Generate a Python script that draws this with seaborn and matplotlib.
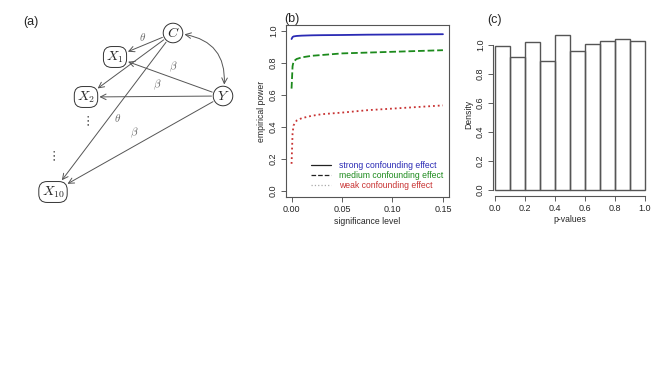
import numpy as np
import pandas as pd
import seaborn as sns
import matplotlib.pyplot as plt
from matplotlib.lines import Line2D

# data
sig_level = [0.0, 0.001, 0.002, 0.005, 0.01, 0.02, 0.03, 0.05, 0.075, 0.10, 0.125, 0.15]
strong = [0.95, 0.962, 0.966, 0.969, 0.971, 0.973, 0.974, 0.975, 0.977, 0.978, 0.979, 0.980]
medium = [0.64, 0.78, 0.81, 0.825, 0.835, 0.845, 0.85, 0.86, 0.865, 0.87, 0.875, 0.88]
weak = [0.17, 0.36, 0.41, 0.44, 0.455, 0.47, 0.48, 0.49, 0.505, 0.515, 0.525, 0.535]
series_names = ['strong confounding effect', 'medium confounding effect', 'weak confounding effect']

bin_edges = [0.0, 0.1, 0.2, 0.3, 0.4, 0.5, 0.6, 0.7, 0.8, 0.9, 1.0]
densities = [0.99, 0.92, 1.02, 0.89, 1.07, 0.96, 1.01, 1.03, 1.04, 1.03]

sns.set_style('ticks')
plt.rcParams['font.family'] = ['Liberation Sans', 'DejaVu Sans']
plt.rcParams['mathtext.fontset'] = 'cm'
plt.rcParams['xtick.direction'] = 'out'
plt.rcParams['ytick.direction'] = 'out'

fig = plt.figure(figsize=(6.71, 3.78), dpi=100)
W, H = 671, 378

def px_axes(left, top, right, bottom):
    return fig.add_axes([left / W, 1 - bottom / H, (right - left) / W, (bottom - top) / H])

# ---------- (a) diagram ----------
ax_a = px_axes(0, 0, 250, 210)
ax_a.set_xlim(0, 250)
ax_a.set_ylim(210, 0)
ax_a.axis('off')
edge_col = '#555555'
nodes = {
    'C': (173, 33, r'$C$', 'circle,pad=0.2'),
    'X1': (115, 57, r'$X_1$', 'round,pad=0.2,rounding_size=0.6'),
    'X2': (86, 97, r'$X_2$', 'round,pad=0.2,rounding_size=0.6'),
    'Y': (223, 96, r'$Y$', 'circle,pad=0.2'),
    'X10': (53, 192, r'$X_{10}$', 'round,pad=0.2,rounding_size=0.6'),
}
txt = {}
for k, (x, y, lab, bs) in nodes.items():
    txt[k] = ax_a.text(x, y, lab, ha='center', va='center', fontsize=10,
                       bbox=dict(boxstyle=bs, fc='white', ec='#333333', lw=0.7))

def arrow(a, b, style='->', conn='arc3,rad=0'):
    ax_a.annotate('', xy=(0.5, 0.5), xycoords=txt[b], xytext=(0.5, 0.5), textcoords=txt[a],
                  arrowprops=dict(arrowstyle=style, color=edge_col, lw=0.7,
                                  patchA=txt[a].get_bbox_patch(), patchB=txt[b].get_bbox_patch(),
                                  shrinkA=1, shrinkB=1, connectionstyle=conn))

for a, b in [('C', 'X1'), ('C', 'X2'), ('C', 'X10'), ('Y', 'X1'), ('Y', 'X2'), ('Y', 'X10')]:
    arrow(a, b)
arrow('C', 'Y', style='<->', conn='arc3,rad=-0.55')

for x, y, s in [(143, 37, r'$\theta$'), (118, 118, r'$\theta$'), (173, 67, r'$\beta$'),
                (157, 85, r'$\beta$'), (134, 133, r'$\beta$')]:
    ax_a.text(x, y, s, fontsize=8, color='#666666', ha='center', va='center')
ax_a.text(87, 121, r'$\vdots$', fontsize=9, ha='center', va='center', color='#444444')
ax_a.text(53, 156, r'$\vdots$', fontsize=9, ha='center', va='center', color='#444444')
fig.text(31 / W, 1 - 22 / H, '(a)', fontsize=9, ha='center', va='center')

# ---------- (b) power curves ----------
ax_b = px_axes(285.5, 24.6, 449, 197.4)
df = pd.DataFrame({'alpha': sig_level * 3,
                   'power': strong + medium + weak,
                   'effect': np.repeat(series_names, len(sig_level))})
line_cols = ['#2a2ab4', '#1c8a1c', '#c83232']
line_styles = ['-', '--', ':']
for name, c, ls in zip(series_names, line_cols, line_styles):
    sns.lineplot(data=df[df['effect'] == name], x='alpha', y='power', color=c,
                 linestyle=ls, lw=1.3, ax=ax_b, legend=False)
ax_b.set_xlim(-0.006, 0.156)
ax_b.set_ylim(-0.04, 1.04)
ax_b.set_xticks([0.0, 0.05, 0.10, 0.15])
ax_b.set_xticklabels(['0.00', '0.05', '0.10', '0.15'])
ax_b.set_yticks([0.0, 0.2, 0.4, 0.6, 0.8, 1.0])
ax_b.set_yticklabels(['0.0', '0.2', '0.4', '0.6', '0.8', '1.0'], rotation=90, va='center')
ax_b.tick_params(labelsize=6.5, length=3.5, width=0.6, color='#444444', pad=2)
ax_b.set_xlabel('significance level', fontsize=6.2, labelpad=2)
ax_b.set_ylabel('empirical power', fontsize=6.2, labelpad=2)
for sp in ax_b.spines.values():
    sp.set_linewidth(0.8)
    sp.set_color('#555555')
handles = [Line2D([], [], color='#222222', lw=0.9, ls='-'),
           Line2D([], [], color='#222222', lw=0.9, ls='--'),
           Line2D([], [], color='#aaaaaa', lw=0.9, ls=':')]
leg = ax_b.legend(handles, series_names, loc='lower right', bbox_to_anchor=(1.0, 0.01),
                  frameon=False, fontsize=6.2, handlelength=2.3, handletextpad=0.9,
                  labelspacing=0.1, borderaxespad=0.3)
for t, c in zip(leg.get_texts(), line_cols):
    t.set_color(c)
fig.text(292 / W, 1 - 19 / H, '(b)', fontsize=9, ha='center', va='center')

# ---------- (c) histogram of p-values ----------
ax_c = px_axes(492.7, 33.4, 646.5, 196)
mids = [(a + b) / 2 for a, b in zip(bin_edges[:-1], bin_edges[1:])]
sns.histplot(x=mids, weights=densities, bins=bin_edges, fill=False, color='#555555',
             lw=0.9, ax=ax_c)
ax_c.set_xlim(-0.015, 1.01)
ax_c.set_ylim(-0.04, 1.08)
sns.despine(ax=ax_c)
ax_c.spines['left'].set_bounds(0, 1)
ax_c.spines['bottom'].set_bounds(0, 1)
for sp in ['left', 'bottom']:
    ax_c.spines[sp].set_linewidth(0.8)
    ax_c.spines[sp].set_color('#555555')
ax_c.set_xticks([0.0, 0.2, 0.4, 0.6, 0.8, 1.0])
ax_c.set_xticklabels(['0.0', '0.2', '0.4', '0.6', '0.8', '1.0'])
ax_c.set_yticks([0.0, 0.2, 0.4, 0.6, 0.8, 1.0])
ax_c.set_yticklabels(['0.0', '0.2', '0.4', '0.6', '0.8', '1.0'], rotation=90, va='center')
ax_c.tick_params(labelsize=6.5, length=3.5, width=0.6, color='#444444', pad=2)
ax_c.set_xlabel('p-values', fontsize=6.2, labelpad=2)
ax_c.set_ylabel('Density', fontsize=6.2, labelpad=2)
fig.text(495 / W, 1 - 20 / H, '(c)', fontsize=9, ha='center', va='center')

fig.savefig('out.png', dpi=100)
